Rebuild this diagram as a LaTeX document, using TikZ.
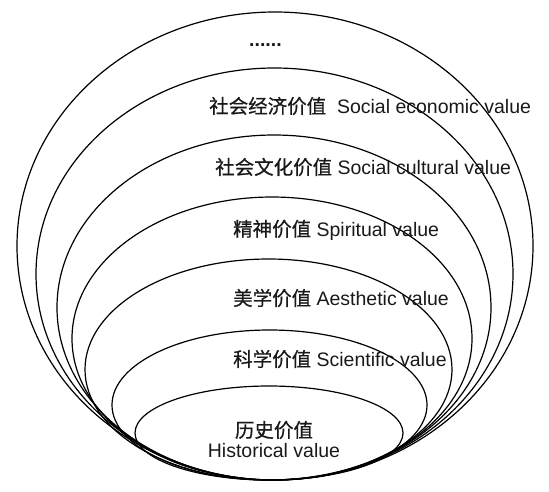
\documentclass[tikz,border=0pt]{standalone}
\usepackage{fontspec}
\setmainfont{Liberation Sans}
\newfontfamily\cjk[FakeBold=0.6]{Noto Sans CJK SC}
\usetikzlibrary{positioning}

\tikzset{
  ring/.style={line width=1.2pt},
  vlabel/.style={anchor=west,inner sep=0pt,text=black!90,font=\fontsize{19.5}{21}\selectfont}
}

\begin{document}
\begin{tikzpicture}[x=1pt,y=-1pt]
\useasboundingbox (0,0) rectangle (549,491);
% nested rings, all touching at the bottom
\foreach \cx/\cy/\rx/\ry in {275/246/258/234, 274.5/274/238.5/206, 274/307.5/217/172.5,
  272/338.5/200/141.5, 268.5/369.5/183.5/110.5, 269.5/405/157.5/75, 269/433/134/47}
  \draw[ring] (\cx,\cy) ellipse ({\rx} and {\ry});
% labels
\node[vlabel,font=\fontsize{19.5}{21}\selectfont\bfseries] (more) at (249,45) {......};
\node[vlabel] (econ) at (209,106) {{\cjk 社会经济价值}\ \ Social economic value};
\node[vlabel] (cult) at (215,167) {{\cjk 社会文化价值}\ Social cultural value};
\node[vlabel] (spir) at (233,230) {{\cjk 精神价值}\ Spiritual value};
\node[vlabel] (aest) at (233,298) {{\cjk 美学价值}\ Aesthetic value};
\node[vlabel] (scie) at (233,359) {{\cjk 科学价值}\ Scientific value};
\node[vlabel,anchor=center] (hist) at (274,430) {\cjk 历史价值};
\node[vlabel,anchor=center,below=4pt of hist] (histen) {Historical value};
\end{tikzpicture}
\end{document}
